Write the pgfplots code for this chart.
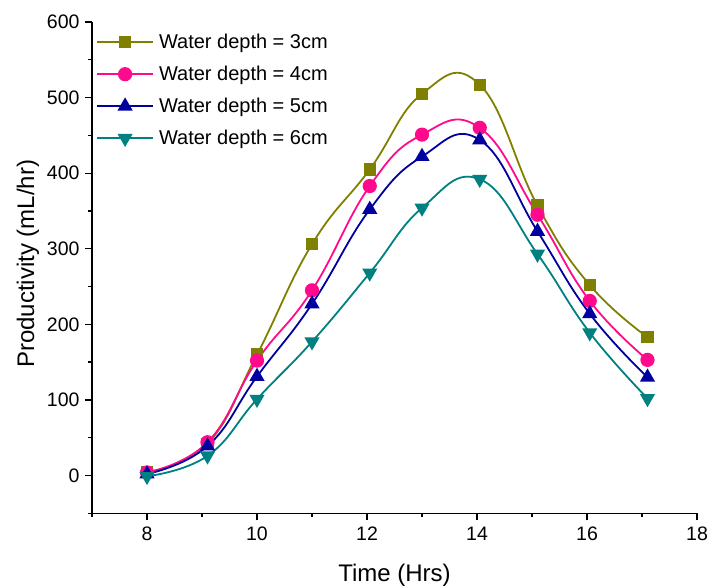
\documentclass[border=0pt]{standalone}
\usepackage{pgfplots}
\pgfplotsset{compat=1.18}
\usepackage{fontspec}
\setmainfont{Liberation Sans}
\definecolor{cOlive}{HTML}{808000}
\definecolor{cPink}{HTML}{FF0A8C}
\definecolor{cNavy}{HTML}{0000A0}
\definecolor{cTeal}{HTML}{008080}
\begin{document}
\begin{tikzpicture}
\useasboundingbox (-92pt,-73.7pt) rectangle (616pt,513.3pt);
\begin{axis}[
  scale only axis, width=605pt, height=491.3pt,
  xmin=7, xmax=18, ymin=-50, ymax=600,
  axis x line*=bottom, axis y line*=left,
  axis line style={line width=1.3pt},
  xtick={8,10,...,18}, minor xtick={7,9,...,17},
  ytick={0,100,...,600}, minor ytick={-50,50,...,550},
  tick align=outside,
  major tick length=7pt, minor tick length=4pt,
  every tick/.style={black, line width=1.3pt},
  /pgf/number format/assume math mode=true,
  tick label style={font=\fontsize{19.5}{24}\selectfont},
  xticklabel style={yshift=-3pt},
  yticklabel style={xshift=-2pt},
  label style={font=\fontsize{24}{28}\selectfont},
  xlabel={Time (Hrs)},
  ylabel={Productivity (mL/hr)},
  xlabel style={yshift=-17pt},
  ylabel style={at={(ticklabel cs:0.508)}, yshift=1pt},
  legend style={draw=none, fill=none, at={(0,1)}, anchor=north west,
    xshift=1pt, yshift=-8pt, column sep=3pt,
    font=\fontsize{20}{24}\selectfont, row sep=12pt},
  legend cell align=left,
  legend image code/.code={\draw[mark repeat=2,mark phase=2] plot coordinates {(0pt,0pt) (28pt,0pt) (56pt,0pt)};},
  every axis plot/.append style={line width=1.8pt, smooth, tension=0.75},
]
\addplot[color=cOlive, mark=square*, mark size=5.3pt, mark options={solid}] coordinates {
(8,5) (9.1,42) (10,160) (11,306) (12.05,405) (13,505) (14.05,517) (15.1,357) (16.05,252) (17.1,183)};
\addlegendentry{Water depth = 3cm}
\addplot[color=cPink, mark=*, mark size=6.2pt] coordinates {
(8,4) (9.1,44) (10,152) (11,245) (12.05,383) (13,451) (14.05,460) (15.1,345) (16.05,231) (17.1,153)};
\addlegendentry{Water depth = 4cm}
\addplot[color=cNavy, mark=triangle*, mark size=7pt] coordinates {
(8,2) (9.1,39) (10,131) (11,227) (12.05,352) (13,422) (14.05,444) (15.1,323) (16.05,214) (17.1,130)};
\addlegendentry{Water depth = 5cm}
\addplot[color=cTeal, mark=triangle*, mark size=7pt, mark options={rotate=180}] coordinates {
(8,-1) (9.1,26) (10,101) (11,177) (12.05,268) (13,354) (14.05,392) (15.1,293) (16.05,189) (17.1,102)};
\addlegendentry{Water depth = 6cm}
\end{axis}
\end{tikzpicture}
\end{document}
